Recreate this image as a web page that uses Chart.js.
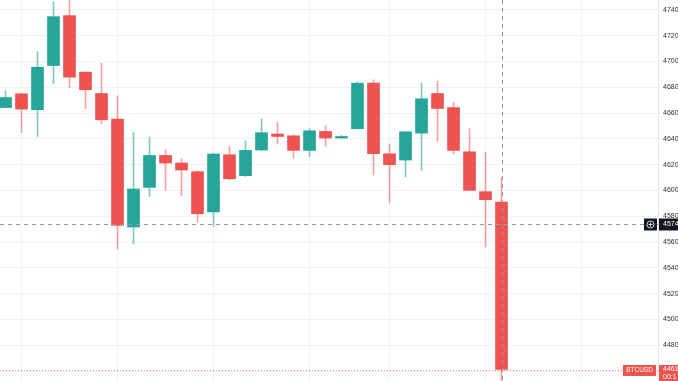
<!DOCTYPE html>
<html>
<head>
<meta charset="utf-8">
<script src="https://cdn.jsdelivr.net/npm/chart.js@4.4.1/dist/chart.umd.min.js"></script>
<style>
  html, body { margin: 0; padding: 0; background: #fff; }
  #wrap { width: 678px; height: 381px; position: relative; }
</style>
</head>
<body>
<div id="wrap"><canvas id="chart"></canvas></div>
<script>
// BTCUSD candles
const candleIdx = [0,1,2,3,4,5,6,7,8,9,10,11,12,13,14,15,16,17,18,19,20,21,22,23,24,25,26,27,28,29,30,31];
const opens  = [46643,46750,46626,46969,47356,46918,46752,46554,45717,46024,46272,46213,46146,45834,46277,46115,46314,46438,46424,46311,46458,46407,46479,46832,46285,46236,46445,46752,46643,46300,45991,45911];
const highs  = [46775,46755,47077,47464,47490,46920,46987,46734,46450,46414,46316,46246,46153,46290,46342,46386,46556,46527,46430,46479,46502,46427,46843,46858,46360,46458,46832,46848,46682,46479,46295,46097];
const lows   = [46640,46450,46419,46827,46798,46636,46517,45547,45586,45954,46001,45960,45753,45722,46084,46109,46308,46360,46249,46264,46342,46403,46479,46120,45903,46105,46156,46380,46283,46001,45563,44450];
const closes = [46721,46631,46956,47348,46879,46781,46548,45730,46012,46272,46213,46159,45820,46283,46091,46311,46448,46419,46311,46463,46407,46419,46832,46285,46200,46455,46711,46636,46311,46001,45929,44612];

// time grid lines (candle positions) and price axis
const timeGrid = [1,7,13,19,24,30,36];
const priceMin = 44523;
const priceMax = 47477;
const priceStep = 200;
const crossPrice = 45743;

const UP = '#26a69a';
const DOWN = '#ef5350';
const isUp = i => closes[i] >= opens[i];

const wickData = candleIdx.map(i => ({ x: i, y: [lows[i], highs[i]] }));
const bodyData = candleIdx.map(i => ({ x: i, y: [opens[i], closes[i]] }));

// overlays: price line, crosshair, axis tags
const overlay = {
    id: 'overlay',
    afterDraw(chart) {
        const { ctx, chartArea: a, scales } = chart;
        const y = scales.y, x = scales.x;
        const last = candleIdx.length - 1;
        const W = chart.width;
        ctx.save();

        // current price line
        const py = Math.round(y.getPixelForValue(closes[last])) + 0.5;
        ctx.strokeStyle = 'rgba(239,83,80,0.8)';
        ctx.lineWidth = 1;
        ctx.setLineDash([1, 2]);
        ctx.beginPath(); ctx.moveTo(a.left, py); ctx.lineTo(a.right, py); ctx.stroke();

        // crosshair
        const cy = Math.round(y.getPixelForValue(crossPrice)) + 0.5;
        const cx = Math.round(x.getPixelForValue(last)) + 0.5;
        ctx.strokeStyle = '#9598a1';
        ctx.setLineDash([4, 4]);
        ctx.beginPath(); ctx.moveTo(a.left, cy); ctx.lineTo(a.right, cy); ctx.stroke();
        ctx.beginPath(); ctx.moveTo(cx, a.top); ctx.lineTo(cx, a.bottom); ctx.stroke();
        ctx.setLineDash([]);

        ctx.textBaseline = 'middle';

        // BTCUSD tag + last price box
        ctx.fillStyle = DOWN;
        ctx.fillRect(623, py - 5.5, 33, 11);
        ctx.fillRect(a.right + 1, py - 5.5, W - a.right, 20);
        ctx.fillStyle = '#fff';
        ctx.font = '6.5px "Liberation Sans", Arial, sans-serif';
        ctx.textAlign = 'center';
        ctx.fillText('BTCUSD', 639.5, py);
        ctx.font = '7px "Liberation Sans", Arial, sans-serif';
        ctx.textAlign = 'left';
        ctx.fillText(String(closes[last]) + '.00', 663, py - 1);
        ctx.fillText('00:1', 663, py + 7);

        // crosshair tags
        ctx.fillStyle = '#131722';
        ctx.fillRect(644, cy - 6, 13, 12);
        ctx.fillRect(a.right + 1, cy - 6, W - a.right, 12);
        ctx.strokeStyle = '#fff';
        ctx.lineWidth = 0.8;
        ctx.beginPath(); ctx.arc(650.5, cy, 3.5, 0, Math.PI * 2); ctx.stroke();
        ctx.beginPath();
        ctx.moveTo(648.5, cy); ctx.lineTo(652.5, cy);
        ctx.moveTo(650.5, cy - 2); ctx.lineTo(650.5, cy + 2);
        ctx.stroke();
        ctx.fillStyle = '#fff';
        ctx.fillText(String(crossPrice) + '.00', 663, cy);
        ctx.restore();
    }
};

new Chart(document.getElementById('chart'), {
    type: 'bar',
    data: {
        datasets: [{
            data: wickData,
            grouped: false,
            barThickness: 1,
            backgroundColor: ctx => isUp(ctx.dataIndex) ? 'rgba(38,166,154,0.6)' : 'rgba(239,83,80,0.55)'
        }, {
            data: bodyData,
            grouped: false,
            barThickness: 12,
            minBarLength: 1,
            backgroundColor: ctx => isUp(ctx.dataIndex) ? UP : DOWN
        }]
    },
    options: {
        responsive: true,
        maintainAspectRatio: false,
        animation: false,
        layout: { padding: 0 },
        plugins: { legend: { display: false }, tooltip: { enabled: false } },
        scales: {
            x: {
                type: 'linear',
                offset: false,
                min: -0.344,
                max: 40.78,
                afterBuildTicks: s => { s.ticks = timeGrid.map(v => ({ value: v })); },
                afterFit: s => { s.height = 0; s.paddingLeft = 0; s.paddingRight = 0; },
                ticks: { display: false },
                grid: { color: '#f0f3fa', drawTicks: false, offset: false },
                border: { display: false }
            },
            y: {
                position: 'right',
                min: priceMin,
                max: priceMax,
                afterBuildTicks: s => { s.ticks = s.ticks.filter(t => t.value % priceStep === 0); },
                afterFit: s => { s.width = 20; s.paddingTop = 0; s.paddingBottom = 0; },
                ticks: {
                    stepSize: priceStep,
                    padding: 5,
                    color: '#2a2e39',
                    font: { size: 7, family: '"Liberation Sans", Arial, sans-serif' },
                    callback: v => String(v)
                },
                grid: { color: '#f0f3fa', drawTicks: false },
                border: { color: '#e0e3eb' }
            }
        }
    },
    plugins: [overlay]
});
</script>
</body>
</html>
